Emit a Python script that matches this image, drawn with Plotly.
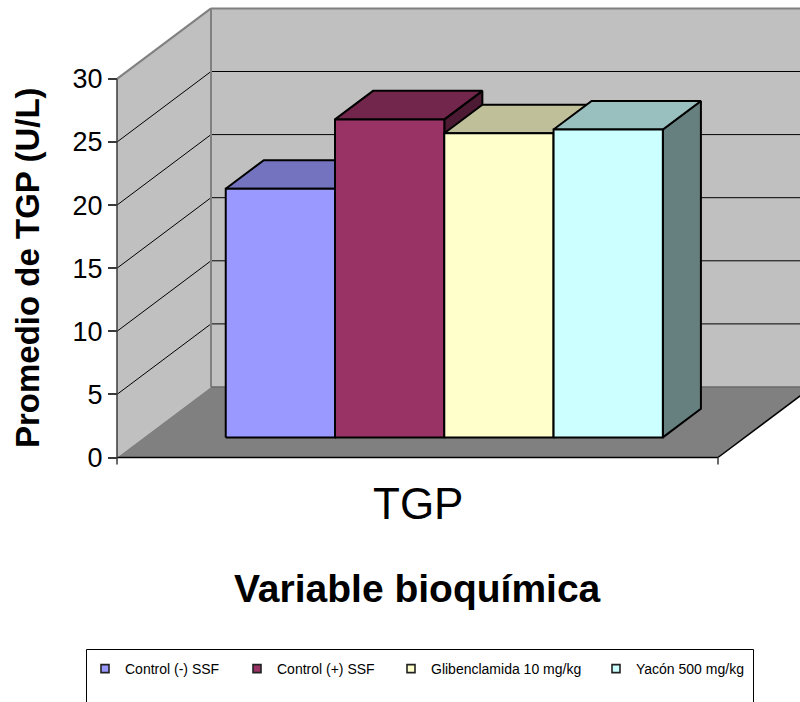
import plotly.graph_objects as go

# ---------------- data ----------------
series = ["Control (-) SSF", "Control (+) SSF", "Glibenclamida 10 mg/kg", "Yacón 500 mg/kg"]
values = [19.7, 25.2, 24.1, 24.4]
colors = ["#9999FF", "#993366", "#FFFFCC", "#CCFFFF"]
category = "TGP"
y_ticks = [0, 5, 10, 15, 20, 25, 30]
y_title = "Promedio de TGP (U/L)"
x_title = "Variable bioquímica"

# ---------------- geometry (oblique 3D projection in data units) ----------------
W, H = 800, 702
AX = 117                      # pixel column of the front value axis
XPX = 601.0                   # pixels per category unit
YPX = 12.62                   # pixels per value unit
Y0PX = 457.5                  # pixel row of value 0 on front plane
XMIN, XMAX = -AX / XPX, (W - AX) / XPX
YMIN, YMAX = -(H - Y0PX) / YPX, Y0PX / YPX
DX, DY = 94 / XPX, 70.5 / YPX  # full depth vector
F0, F1 = 0.285, 0.69           # depth slab occupied by bars
VMAX = y_ticks[-1]
GAP = 1.5
n = len(values)
bw = 1.0 / (n + GAP)
x_start = GAP * bw / 2


def P(x, v, d):
    return x + d * DX, v + d * DY


def path(points):
    return "M" + " L".join(f"{x:.5f},{y:.5f}" for x, y in points) + " Z"


def shade(hexc, f):
    h = hexc.lstrip("#")
    r, g, b = (int(h[i:i + 2], 16) for i in (0, 2, 4))
    return "#%02X%02X%02X" % (round(r * f), round(g * f), round(b * f))


fig = go.Figure()
shapes = []

# walls and floor
side_wall = [P(0, 0, 0), P(0, VMAX, 0), P(0, VMAX, 1), P(0, 0, 1)]
back_wall = [P(0, 0, 1), P(0, VMAX, 1), P(1, VMAX, 1), P(1, 0, 1)]
floor = [P(0, 0, 0), P(1, 0, 0), P(1, 0, 1), P(0, 0, 1)]
for poly, col in [(back_wall, "#C0C0C0"), (side_wall, "#C0C0C0"), (floor, "#808080")]:
    shapes.append(dict(type="path", path=path(poly), fillcolor=col, line=dict(width=0),
                       xref="x", yref="y", layer="below"))

# gridlines on side wall and back wall
for t in y_ticks[1:-1]:
    a, b = P(0, t, 0), P(0, t, 1)
    c = P(1, t, 1)
    shapes.append(dict(type="line", x0=a[0], y0=a[1], x1=b[0], y1=b[1],
                       line=dict(color="black", width=1), layer="below"))
    shapes.append(dict(type="line", x0=b[0], y0=b[1], x1=c[0], y1=c[1],
                       line=dict(color="black", width=1), layer="below"))

# wall borders
a, b, c = P(0, VMAX, 0), P(0, VMAX, 1), P(1, VMAX, 1)
d = P(0, 0, 1)
e = P(1, 0, 1)
for (p, q) in [(a, b), (b, c), (d, b)]:
    shapes.append(dict(type="line", x0=p[0], y0=p[1], x1=q[0], y1=q[1],
                       line=dict(color="#808080", width=2), layer="below"))
shapes.append(dict(type="line", x0=d[0], y0=d[1], x1=e[0], y1=e[1],
                   line=dict(color="#6A6A6A", width=1.5), layer="below"))

# floor front/right edges and front axis line
f0, f1, f2 = P(0, 0, 0), P(1, 0, 0), P(1, 0, 1)
shapes.append(dict(type="line", x0=f0[0], y0=f0[1], x1=f1[0], y1=f1[1],
                   line=dict(color="black", width=1.5), layer="below"))
shapes.append(dict(type="line", x0=f1[0], y0=f1[1], x1=f2[0], y1=f2[1],
                   line=dict(color="black", width=1.5), layer="below"))
shapes.append(dict(type="line", x0=0, y0=0, x1=0, y1=VMAX,
                   line=dict(color="#3A3A3A", width=1.5), layer="below"))
# category-axis tick marks
for xt in (0, 1):
    shapes.append(dict(type="line", x0=xt, y0=0, x1=xt, y1=-7 / YPX,
                       line=dict(color="#3A3A3A", width=1.5), layer="below"))

# bars: sides & tops first (left to right), fronts last
fronts = []
for i, (v, col) in enumerate(zip(values, colors)):
    L = x_start + i * bw
    R = L + bw
    side = [P(R, 0, F0), P(R, 0, F1), P(R, v, F1), P(R, v, F0), P(R, 0, F0)]
    top = [P(L, v, F0), P(R, v, F0), P(R, v, F1), P(L, v, F1), P(L, v, F0)]
    front = [P(L, 0, F0), P(R, 0, F0), P(R, v, F0), P(L, v, F0), P(L, 0, F0)]
    for poly, fc in [(side, shade(col, 0.5)), (top, shade(col, 0.75))]:
        fig.add_trace(go.Scatter(x=[p[0] for p in poly], y=[p[1] for p in poly],
                                 mode="lines", fill="toself", fillcolor=fc,
                                 line=dict(color="black", width=2),
                                 hoverinfo="skip", showlegend=False))
    fronts.append((front, col, series[i], v))

for poly, col, name, v in fronts:
    fig.add_trace(go.Scatter(x=[p[0] for p in poly], y=[p[1] for p in poly],
                             mode="lines", fill="toself", fillcolor=col,
                             line=dict(color="black", width=2), name=name,
                             hovertemplate=f"{name}: {v}<extra></extra>",
                             showlegend=False))

# legend entries (one legend per entry to reproduce Excel spacing)
FONT = "Arial, Liberation Sans, sans-serif"
legend_x_px = [85, 237, 391, 596]
legend_y_px = 669
layout_legends = {}
for k, (name, col) in enumerate(zip(series, colors)):
    lid = "legend" if k == 0 else f"legend{k + 1}"
    fig.add_trace(go.Scatter(x=[None], y=[None], mode="markers", name=name, legend=lid,
                             marker=dict(symbol="square", size=8, color=col,
                                         line=dict(color="#222222", width=1.6))))
    layout_legends[lid] = dict(orientation="h", x=legend_x_px[k] / W, xanchor="left",
                               y=1 - legend_y_px / H, yanchor="middle",
                               bgcolor="rgba(0,0,0,0)", itemwidth=30,
                               font=dict(family=FONT, size=14, color="black"))

# legend box
shapes.append(dict(type="rect", xref="paper", yref="paper",
                   x0=86.5 / W, x1=753.5 / W, y0=-0.1, y1=1 - 649.5 / H,
                   line=dict(color="black", width=1), fillcolor="rgba(0,0,0,0)", layer="above"))

annotations = [
    dict(text=category, x=0.5, xref="x", y=1 - 503 / H, yref="paper",
         showarrow=False, font=dict(family=FONT, size=44, color="black"),
         xanchor="center", yanchor="middle"),
    dict(text=f"<b>{x_title}</b>", x=0.5, xref="x", y=1 - 588 / H, yref="paper",
         showarrow=False, font=dict(family=FONT, size=39, color="black"),
         xanchor="center", yanchor="middle"),
    dict(text=f"<b>{y_title}</b>", x=27 / W, xref="paper",
         y=1 - 268 / H, yref="paper", textangle=-90,
         showarrow=False, font=dict(family=FONT, size=33, color="black"),
         xanchor="center", yanchor="middle"),
]

fig.update_layout(
    width=W, height=H,
    margin=dict(l=0, r=0, t=0, b=0),
    paper_bgcolor="white", plot_bgcolor="white",
    shapes=shapes, annotations=annotations,
    xaxis=dict(range=[XMIN, XMAX], visible=False, fixedrange=True),
    yaxis=dict(range=[YMIN, YMAX], anchor="free", position=AX / W,
               tickvals=y_ticks, ticks="outside", ticklen=9,
               tickcolor="#3A3A3A", tickwidth=1.5, showgrid=False, zeroline=False,
               showline=False, tickfont=dict(family=FONT, size=27, color="black"),
               fixedrange=True),
    showlegend=True,
    **layout_legends,
)

fig.write_html("out.html")
